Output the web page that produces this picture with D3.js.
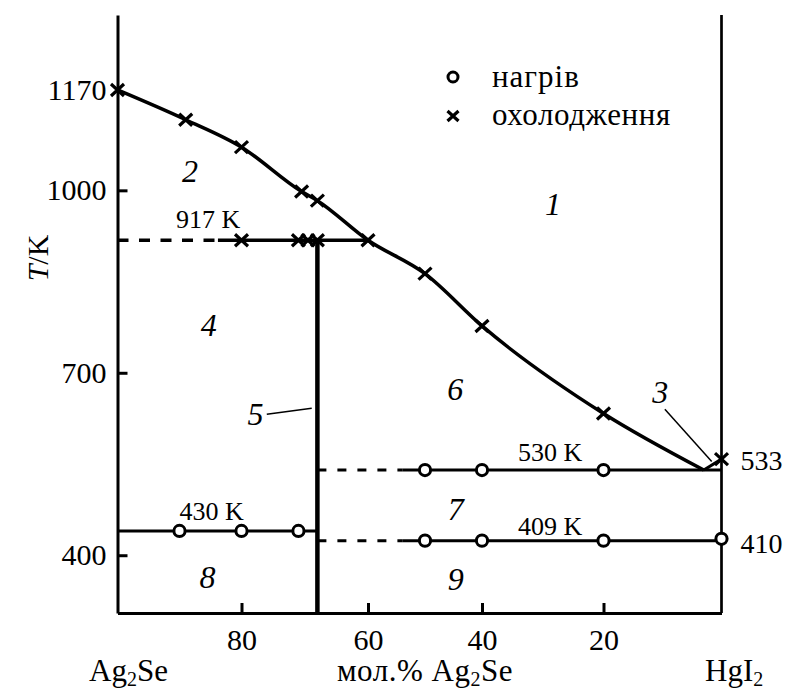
<!DOCTYPE html>
<html><head><meta charset="utf-8">
<script src="https://cdn.jsdelivr.net/npm/d3@7"></script>
</head><body style="margin:0">
<svg id="c" width="787" height="691"></svg>
<script>
// ---------------- data ----------------
// liquidus (mol.% Ag2Se, T/K)
const liquidusX = [100, 89, 80, 70.5, 68, 60, 50, 40, 20, 3];
const liquidusT = [1165, 1116, 1071, 998, 983, 918, 863, 777, 633, 540];
// short branch from eutectic to HgI2
const branchX = [3, 0];
const branchT = [540, 558];
// cooling points (crosses)
const coolX = [100, 89, 80, 70.5, 68, 60, 50, 40, 20, 0, 80, 71, 69.5, 68];
const coolT = [1165, 1116, 1071, 998, 983, 918, 863, 777, 633, 558, 918, 918, 918, 918];
// heating points (circles)
const heatX = [90, 80, 71, 50, 40, 20, 50, 40, 20, 0];
const heatT = [440, 440, 440, 540, 540, 540, 424, 424, 424, 427];
// isotherms
const isoT         = [918, 540, 424, 440];
const isoLabel     = ["917 K", "530 K", "409 K", "430 K"];
const isoStart     = [100, 68, 68, 100];
const isoSolidFrom = [83.8, 54, 54, 100];
const isoEnd       = [60, 0, 0, 68];
// compound line
const compoundX = 68;
const compoundTopT = 918;
// axis ticks
const xTicks = [80, 60, 40, 20];
const yTicks = [1000, 700, 400];
const yTopLabel = "1170";
const rightLabels = ["533", "410"];
const rightLabelT = [555, 420];
// region labels
const regionText = ["1", "2", "3", "4", "5", "6", "7", "8", "9"];
const regionX = [28.3, 88.3, 10.4, 85.3, 77.8, 44.7, 44.6, 85.5, 44.6];
const regionT = [959, 1013, 650, 760, 614, 655, 458, 346, 343];
// K-label anchors
const isoLabelX = [85.4, 28.8, 28.8, 84.8];
const isoLabelT = [938, 555, 433, 458];
// leader lines
const leaderX1 = [9.6, 76.0], leaderT1 = [640, 632];
const leaderX2 = [1.66, 68.9], leaderT2 = [554, 641.5];

// ---------------- setup ----------------
const FONT = '"Liberation Serif"';
const svg = d3.select("#c");
svg.append("rect").attr("width", 787).attr("height", 691).attr("fill", "#fff");
const x = d3.scaleLinear().domain([100, 80, 60, 40, 20, 0]).range([117.5, 241.5, 368, 482, 603.5, 721.5]);
const y = d3.scaleLinear().domain([305, 1288.3]).range([613, 15]);
const txt = (sel, size) => sel.attr("font-family", FONT).attr("font-size", size).attr("fill", "#000");

// ---------------- axes ----------------
const yAxis = svg.append("g").attr("transform", `translate(${x(100)},0)`)
  .call(d3.axisLeft(y).tickValues(yTicks).tickSizeInner(-10).tickSizeOuter(0).tickPadding(11).tickFormat(d3.format("d")));
const xAxis = svg.append("g").attr("transform", `translate(0,${y(305)})`)
  .call(d3.axisBottom(x).tickValues(xTicks).tickSizeInner(-10).tickSizeOuter(0).tickPadding(16).tickFormat(d3.format("d")));
[yAxis, xAxis].forEach(g => {
  g.attr("font-family", FONT).attr("font-size", 30);
  g.selectAll("path,line").attr("stroke", "#000").attr("stroke-width", 3);
  txt(g.selectAll("text"), 30);
});
// right frame line
svg.append("line").attr("x1", x(0)).attr("x2", x(0)).attr("y1", y(1288.3)).attr("y2", y(305))
  .attr("stroke", "#000").attr("stroke-width", 2.7);

// top-left label 1170
txt(svg.append("text"), 30).attr("x", x(100) - 11).attr("y", y(liquidusT[0])).attr("dy", "0.33em")
  .attr("text-anchor", "end").text(yTopLabel);

// right labels
txt(svg.selectAll(".rl").data(rightLabels).join("text"), 28)
  .attr("x", x(0) + 19).attr("y", (d, i) => y(rightLabelT[i])).attr("dy", "0.34em").text(d => d);

// y axis title
txt(svg.append("text"), 30).attr("transform", `translate(48,258) rotate(-90)`).attr("text-anchor", "middle")
  .call(t => { t.append("tspan").attr("font-style", "italic").text("T"); t.append("tspan").text("/K"); });

// ---------------- lines ----------------
const pts = (xs, ts) => xs.map((v, i) => [x(v), y(ts[i])]);
svg.append("path").attr("d", d3.line().curve(d3.curveMonotoneX)(pts(liquidusX, liquidusT)))
  .attr("fill", "none").attr("stroke", "#000").attr("stroke-width", 3.5);
svg.append("path").attr("d", d3.line()(pts(branchX, branchT)))
  .attr("fill", "none").attr("stroke", "#000").attr("stroke-width", 3);

isoT.forEach((t, i) => {
  if (isoSolidFrom[i] !== isoStart[i]) {
    svg.append("line").attr("x1", x(isoStart[i])).attr("x2", x(isoSolidFrom[i]))
      .attr("y1", y(t)).attr("y2", y(t)).attr("stroke", "#000")
      .attr("stroke-width", i === 0 ? 3.5 : 3).attr("stroke-dasharray", i === 0 ? "11,10.5" : "9,11");
  }
  svg.append("line").attr("x1", x(isoSolidFrom[i])).attr("x2", x(isoEnd[i]))
    .attr("y1", y(t)).attr("y2", y(t)).attr("stroke", "#000").attr("stroke-width", i === 0 ? 3.5 : 3);
});
svg.append("line").attr("x1", x(compoundX)).attr("x2", x(compoundX))
  .attr("y1", y(compoundTopT)).attr("y2", y(305)).attr("stroke", "#000").attr("stroke-width", 4.5);

// leader lines
leaderX1.forEach((v, i) => {
  svg.append("line").attr("x1", x(v)).attr("y1", y(leaderT1[i])).attr("x2", x(leaderX2[i])).attr("y2", y(leaderT2[i]))
    .attr("stroke", "#000").attr("stroke-width", 1.5);
});

// ---------------- markers ----------------
const crossPath = "M-6.5,-6L6.5,6M-6.5,6L6.5,-6";
svg.selectAll(".cr").data(coolX).join("path").attr("class", "cr")
  .attr("transform", (d, i) => `translate(${x(d)},${y(coolT[i])})`)
  .attr("d", crossPath).attr("stroke", "#000").attr("stroke-width", 3.2).attr("fill", "none");
svg.selectAll(".ci").data(heatX).join("circle").attr("class", "ci")
  .attr("cx", d => x(d)).attr("cy", (d, i) => y(heatT[i])).attr("r", 5.6)
  .attr("fill", "#fff").attr("stroke", "#000").attr("stroke-width", 3);

// ---------------- labels ----------------
txt(svg.selectAll(".rg").data(regionText).join("text").attr("class", "rg"), 32)
  .attr("x", (d, i) => x(regionX[i])).attr("y", (d, i) => y(regionT[i]))
  .attr("text-anchor", "middle").attr("font-style", "italic").text(d => d);
txt(svg.selectAll(".kl").data(isoLabel).join("text").attr("class", "kl"), 26)
  .attr("x", (d, i) => x(isoLabelX[i])).attr("y", (d, i) => y(isoLabelT[i]))
  .attr("text-anchor", "middle").text(d => d);

// legend
const lg = svg.append("g");
lg.append("circle").attr("cx", 453).attr("cy", 77).attr("r", 5).attr("fill", "#fff").attr("stroke", "#000").attr("stroke-width", 3);
lg.append("path").attr("transform", "translate(453,116)").attr("d", "M-5.5,-5L5.5,5M-5.5,5L5.5,-5").attr("stroke", "#000").attr("stroke-width", 3.2);
txt(lg.append("text"), 31).attr("x", 492).attr("y", 87).attr("letter-spacing", 1).text("нагрів");
txt(lg.append("text"), 31).attr("x", 492).attr("y", 125).attr("letter-spacing", 0.6).text("охолодження");

// bottom labels
function chem(t, a, b, c) {
  t.append("tspan").text(a);
  t.append("tspan").attr("dy", 5).attr("font-size", 20).text(b);
  if (c) t.append("tspan").attr("dy", -5).text(c);
}
txt(svg.append("text"), 31).attr("x", 168).attr("y", 681).attr("text-anchor", "end")
  .call(t => chem(t, "Ag", "2", "Se"));
txt(svg.append("text"), 31).attr("x", 337).attr("y", 681).attr("letter-spacing", 0.5)
  .call(t => chem(t, "мол.% Ag", "2", "Se"));
txt(svg.append("text"), 31).attr("x", 705).attr("y", 681)
  .call(t => chem(t, "HgI", "2", ""));
</script>
</body></html>
